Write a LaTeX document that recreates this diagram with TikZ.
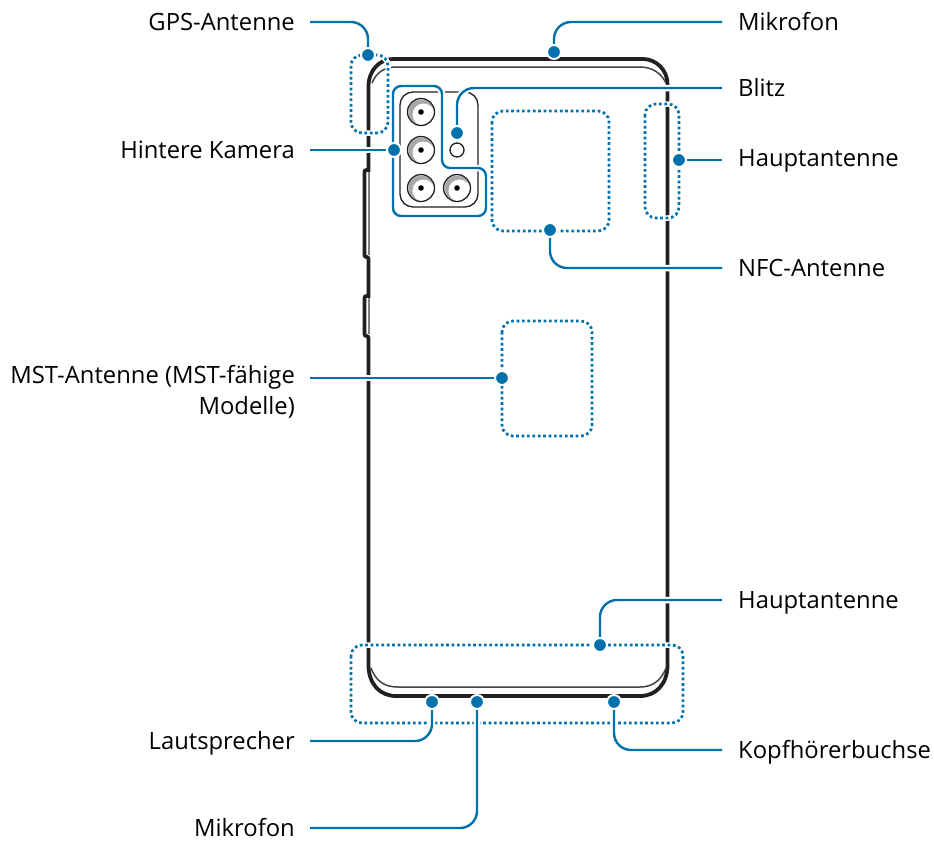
\documentclass[tikz,border=0pt]{standalone}
\usepackage{fontspec}
\setmainfont{Open Sans}
\usepackage{xcolor}
\definecolor{callout_blue}{HTML}{0071AB}
\definecolor{body_black}{HTML}{231F20}
\definecolor{lens_gray}{HTML}{A8A8A8}
\usetikzlibrary{positioning}
\pgfdeclarelayer{front}
\pgfsetlayers{main,front}
\tikzset{
    label_text/.style = {inner ysep=0pt, font=\fontsize{23.8}{31}\selectfont},
    left_label/.style = {label_text, align=right, anchor=east, inner xsep=15pt},
    right_label/.style = {label_text, align=left, anchor=west, inner xsep=16pt},
    one_line/.style = {text height=18pt, text depth=2pt},
    pin/.style = {circle, fill=callout_blue, draw=white, line width=2pt, minimum size=14pt, inner sep=0pt},
    callout/.style = {draw=callout_blue, line width=2.4pt, rounded corners=17pt, preaction={draw=white, line width=6.5pt}},
    zone/.style = {draw=callout_blue, line width=2.7pt, dash pattern=on 2.7pt off 2.7pt, rounded corners=11pt, preaction={draw=white, solid, line width=5.5pt}},
    body/.style = {draw=body_black, line width=3.8pt},
    body_thin/.style = {draw=body_black!85, line width=1.5pt},
    cam_line/.style = {draw=body_black, line width=1.3pt},
    lens/.style = {circle, draw=body_black, line width=1.3pt, fill=white, minimum size=27pt, inner sep=0pt,
        path picture={
            \fill[lens_gray] (path picture bounding box.center) circle (12.5);
            \fill[white] ([xshift=2.5pt,yshift=-2.5pt]path picture bounding box.center) circle (11);
            \fill[black] (path picture bounding box.center) circle (2.8);
        }}
}
\begin{document}
\begin{tikzpicture}[x=1pt,y=-1pt]
    \useasboundingbox (0,0) rectangle (934,841);

    % phone
    \draw[body] (368.5,86) -- (368.5,170) [rounded corners=2pt] -- (364.5,170) -- (364.5,257) -- (368.5,257) [sharp corners] -- (368.5,296)
        [rounded corners=2pt] -- (364.5,296) -- (364.5,336) -- (368.5,336) [sharp corners]
        -- (368.5,665) .. controls (368.5,684) and (380,696) .. (396,696)
        -- (640,696) .. controls (656,696) and (667.5,684) .. (667.5,665)
        -- (667.5,84) .. controls (667.5,70) and (656,59) .. (643,59)
        -- (393,59) .. controls (380,59) and (368.5,70) .. (368.5,86) -- cycle;
    \draw[body_thin] (372,83) .. controls (376,73) and (384,67) .. (396,67) -- (640,67) .. controls (652,67) and (661,73) .. (666,83);
    \draw[body_thin] (371,668) .. controls (376,681) and (384,687) .. (398,687) -- (640,687) .. controls (652,687) and (661,681) .. (666,668);
    \draw[draw=gray, line width=1.4pt] (369,172) -- (369,255);
    \draw[draw=gray, line width=1.4pt] (369,298) -- (369,334);

    % camera
    \draw[cam_line, rounded corners=13pt] (400,92) rectangle (478,207);
    \node[lens] (lens_a) at (421,112) {};
    \node[lens] (lens_b) at (421,150) {};
    \node[lens] (lens_c) at (421,188) {};
    \node[lens] (lens_d) at (457,188) {};
    \node[circle, cam_line, draw, minimum size=14pt, inner sep=0pt] (flash) at (457,150) {};

    % zones
    \draw[zone] (351,55) rectangle (388,133);
    \draw[zone] (492,111) rectangle (609,231);
    \draw[zone] (645,104) rectangle (679,218);
    \draw[zone] (502,321) rectangle (592,436);
    \draw[zone] (351,645) rectangle (683,723);
    \draw[callout, rounded corners=8pt] (393,86) -- (442,86) -- (442,168) -- (486,168) -- (486,216) -- (393,216) -- cycle;

    \begin{pgfonlayer}{front}
        \node[pin] (gps_pin) at (368,55) {};
        \node[pin] (mic_top_pin) at (554,52) {};
        \node[pin] (blitz_pin) at (457,133) {};
        \node[pin] (kamera_pin) at (394,150) {};
        \node[pin] (nfc_pin) at (550,230) {};
        \node[pin] (haupt_top_pin) at (679,160) {};
        \node[pin] (mst_pin) at (502,378) {};
        \node[pin] (haupt_low_pin) at (600,645) {};
        \node[pin] (speaker_pin) at (432,702) {};
        \node[pin] (mic_low_pin) at (477,702) {};
        \node[pin] (jack_pin) at (614,702) {};
    \end{pgfonlayer}

    % labels
    \node[left_label, one_line] (gps_label) at (310,22) {GPS-Antenne};
    \node[left_label, one_line] (kamera_label) at (310,150) {Hintere Kamera};
    \node[left_label] (mst_label) at (310,392) {MST-Antenne (MST-fähige\\Modelle)};
    \node[left_label, one_line] (speaker_label) at (310,741) {Lautsprecher};
    \node[left_label, one_line] (mic_low_label) at (310,828) {Mikrofon};
    \node[right_label, one_line] (mic_top_label) at (722,22) {Mikrofon};
    \node[right_label, one_line] (blitz_label) at (722,88) {Blitz};
    \node[right_label, one_line] (haupt_top_label) at (722,158) {Hauptantenne};
    \node[right_label, one_line] (nfc_label) at (722,268) {NFC-Antenne};
    \node[right_label, one_line] (haupt_low_label) at (722,600) {Hauptantenne};
    \node[right_label, one_line] (jack_label) at (722,750) {Kopfhörerbuchse};

    % callouts
    \draw[callout] (gps_label.east) -| (gps_pin.center);
    \draw[callout] (kamera_label.east) -- (kamera_pin.center);
    \draw[callout] (mst_label.east |- mst_pin) -- (mst_pin.center);
    \draw[callout] (speaker_label.east) -| (speaker_pin.center);
    \draw[callout] (mic_low_label.east) -| (mic_low_pin.center);
    \draw[callout] (mic_top_label.west) -| (mic_top_pin.center);
    \draw[callout] (blitz_label.west) -| (blitz_pin.center);
    \draw[callout] (haupt_top_label.west |- haupt_top_pin) -- (haupt_top_pin.center);
    \draw[callout] (nfc_label.west) -| (nfc_pin.center);
    \draw[callout] (haupt_low_label.west) -| (haupt_low_pin.center);
    \draw[callout] (jack_label.west) -| (jack_pin.center);
\end{tikzpicture}
\end{document}
